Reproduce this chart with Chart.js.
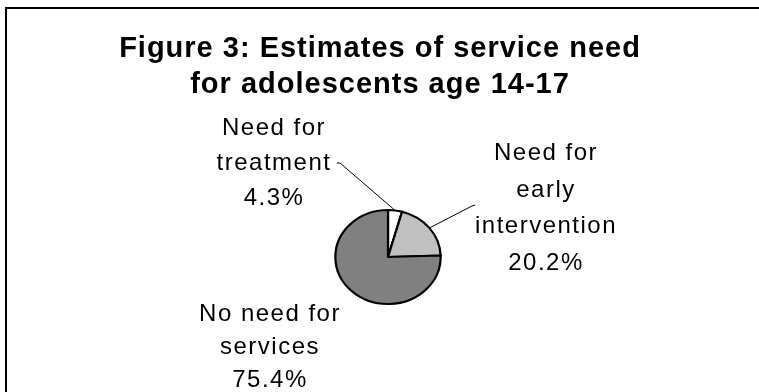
<!DOCTYPE html>
<html>
<head>
<meta charset="utf-8">
<script src="https://cdn.jsdelivr.net/npm/chart.js@4.4.1/dist/chart.umd.min.js"></script>
<style>
	html, body { margin: 0; padding: 0; background: #fff; overflow: hidden; }
	#wrap { position: relative; width: 759px; height: 392px; }
	#frame {
		position: absolute; left: 5px; top: 7px; width: 770px; height: 400px;
		border-left: 2px solid #000; border-top: 2px solid #000;
	}
	#pie { position: absolute; left: 0; top: 0; }
</style>
</head>
<body>
<div id="wrap">
	<div id="frame"></div>
	<canvas id="pie" width="759" height="392"></canvas>
</div>
<script>
// data
const categories = ['Need for treatment', 'Need for early intervention', 'No need for services'];
const shares = [4.3, 20.2, 75.4];
const sliceColors = ['#ffffff', '#c0c0c0', '#808080'];
const titleLines = ['Figure 3: Estimates of service need', 'for adolescents age 14-17'];
const labelLines = [
	['Need for', 'treatment', '4.3%'],
	['Need for', 'early', 'intervention', '20.2%'],
	['No need for', 'services', '75.4%']
];

// excel draws this pie a bit wider than tall
const STRETCH_X = 1.12;

// where each label block sits, relative to the pie center (x = text center, y = first baseline)
const labelSpots = [
	{ dx: -114, dy: -122, lineH: 35, leader: [[-48, -94], [-51, -94]] },
	{ dx: 158, dy: -97, lineH: 36.5, leader: [[84, -51], [87, -52]] },
	{ dx: -118, dy: 64, lineH: 33, leader: null }
];

const labelsPlugin = {
	id: 'pieLabels',
	beforeDatasetsDraw(chart) {
		const arc = chart.getDatasetMeta(0).data[0];
		const ctx = chart.ctx;
		ctx.save();
		ctx.translate(arc.x, arc.y);
		ctx.scale(STRETCH_X, 1);
		ctx.translate(-arc.x, -arc.y);
	},
	afterDatasetsDraw(chart) {
		chart.ctx.restore();
	},
	afterDraw(chart) {
		const ctx = chart.ctx;
		const arcs = chart.getDatasetMeta(0).data;

		//title
		ctx.save();
		ctx.fillStyle = '#000';
		ctx.textAlign = 'center';
		ctx.textBaseline = 'alphabetic';
		ctx.font = 'bold 29px "Liberation Sans", Arial, sans-serif';
		ctx.letterSpacing = '1px';
		ctx.fillText(titleLines[0], 380, 57);
		ctx.fillText(titleLines[1], 380, 93);
		ctx.restore();

		//labels + leader lines
		arcs.forEach((arc, i) => {
			const spot = labelSpots[i];
			const cx = arc.x, cy = arc.y;
			if (spot.leader) {
				const mid = (arc.startAngle + arc.endAngle) / 2;
				const ex = cx + Math.cos(mid) * arc.outerRadius * STRETCH_X;
				const ey = cy + Math.sin(mid) * arc.outerRadius;
				ctx.save();
				ctx.strokeStyle = '#000';
				ctx.lineWidth = 1;
				ctx.beginPath();
				ctx.moveTo(ex, ey);
				spot.leader.forEach(p => ctx.lineTo(cx + p[0], cy + p[1]));
				ctx.stroke();
				ctx.restore();
			}
			ctx.save();
			ctx.fillStyle = '#000';
			ctx.textAlign = 'center';
			ctx.font = '24px "Liberation Sans", Arial, sans-serif';
			ctx.letterSpacing = '1.5px';
			labelLines[i].forEach((line, j) => {
				ctx.fillText(line, cx + spot.dx, cy + spot.dy + j * spot.lineH);
			});
			ctx.restore();
		});
	}
};

const chart_ctx = document.getElementById('pie').getContext('2d');
new Chart(chart_ctx, {
	type: 'pie',
	data: {
		labels: categories,
		datasets: [{
			data: shares,
			backgroundColor: sliceColors,
			borderColor: '#000',
			borderWidth: 2,
			borderJoinStyle: 'miter'
		}]
	},
	options: {
		responsive: false,
		animation: false,
		layout: { padding: { left: 340, right: 323, top: 209, bottom: 87 } },
		plugins: {
			legend: { display: false },
			title: { display: false },
			tooltip: { enabled: false }
		}
	},
	plugins: [labelsPlugin]
});
</script>
</body>
</html>
